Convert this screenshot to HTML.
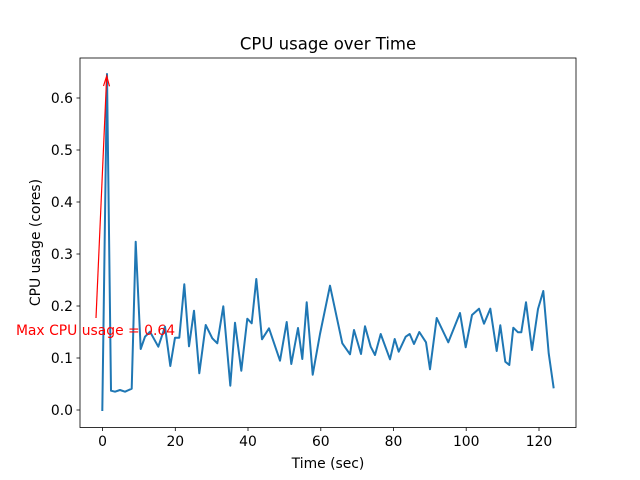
<!DOCTYPE html>
<html><head><style>body{margin:0;background:#fff}svg{display:block}text{font-family:"DejaVu Sans","Liberation Sans",sans-serif}</style></head><body>
<svg width="640" height="480" viewBox="0 0 640 480" xmlns="http://www.w3.org/2000/svg">
<rect width="640" height="480" fill="#fff"/>
<text x="328" y="49.5" font-size="16.5" text-anchor="middle">CPU usage over Time</text>
<g stroke="#000" stroke-width="0.8">
<line x1="102.5" y1="427.5" x2="102.5" y2="431"/><line x1="175.3" y1="427.5" x2="175.3" y2="431"/><line x1="248" y1="427.5" x2="248" y2="431"/><line x1="320.8" y1="427.5" x2="320.8" y2="431"/><line x1="393.5" y1="427.5" x2="393.5" y2="431"/><line x1="466.2" y1="427.5" x2="466.2" y2="431"/><line x1="539" y1="427.5" x2="539" y2="431"/>
<line x1="76.5" y1="410" x2="80" y2="410"/><line x1="76.5" y1="358" x2="80" y2="358"/><line x1="76.5" y1="306" x2="80" y2="306"/><line x1="76.5" y1="254" x2="80" y2="254"/><line x1="76.5" y1="202" x2="80" y2="202"/><line x1="76.5" y1="150" x2="80" y2="150"/><line x1="76.5" y1="98" x2="80" y2="98"/>
</g>
<g font-size="13.9" text-anchor="middle">
<text x="102.5" y="446">0</text><text x="175.3" y="446">20</text><text x="248" y="446">40</text><text x="320.8" y="446">60</text><text x="393.5" y="446">80</text><text x="466.2" y="446">100</text><text x="539" y="446">120</text>
<text x="328" y="468">Time (sec)</text>
</g>
<g font-size="13.9" text-anchor="end">
<text x="73" y="415">0.0</text><text x="73" y="363">0.1</text><text x="73" y="311">0.2</text><text x="73" y="259">0.3</text><text x="73" y="207">0.4</text><text x="73" y="155">0.5</text><text x="73" y="103">0.6</text>
</g>
<text transform="translate(40,242.5) rotate(-90)" font-size="13.9" text-anchor="middle">CPU usage (cores)</text>
<polyline fill="none" stroke="#1f77b4" stroke-width="2" stroke-linejoin="round" points="102.3,411 107,74 111,390.7 115,391.7 120,390 125,391.7 131.7,388.7 135.7,241.7 140.7,349 145,336.7 150,331.7 158.3,346.7 165,326.7 170.3,366 175,337.7 179.3,337.7 184.3,284.3 189,346.3 194,310.7 199.3,373.3 205.7,325 212.3,338.3 217.3,343.3 223.3,306.3 230.3,385.7 235,322.7 241.3,370.7 247.3,318.7 251.7,323.3 256.3,279 262,339.3 269,328.3 280,360.7 286.7,322 291.3,364 298,328 302.3,359 306.7,302.3 312.7,374.7 320,334 330,285.7 342.3,343.3 350,354.3 354,330 361,354 365,326.3 370.7,346.7 375,355 380.7,334 390,359.3 394.7,339 398.7,351.7 405.7,336.7 409.7,334 414,344 419.3,332 426,342.3 430,369.3 436.7,318 448.3,342.3 460,313 465.7,347.3 472,315 479,308.7 484,323.7 490.3,308.7 496.7,351 500.3,325.3 505.3,361.7 509.3,365 513.3,327.7 518,332.3 521.3,332.3 526,302.3 532,350 538,309 543.3,291 548.7,353.3 553.7,388.3"/>
<line x1="96" y1="318" x2="106.6" y2="78" stroke="red" stroke-width="1.2"/>
<polyline points="103.5,86 106.7,76 109.5,86.3" fill="none" stroke="red" stroke-width="1.2"/>
<text x="95.5" y="335" font-size="13.9" fill="red" text-anchor="middle">Max CPU usage = 0.64</text>
<rect x="80" y="58" width="496" height="369.5" fill="none" stroke="#000" stroke-width="0.8"/>
</svg>
</body></html>
